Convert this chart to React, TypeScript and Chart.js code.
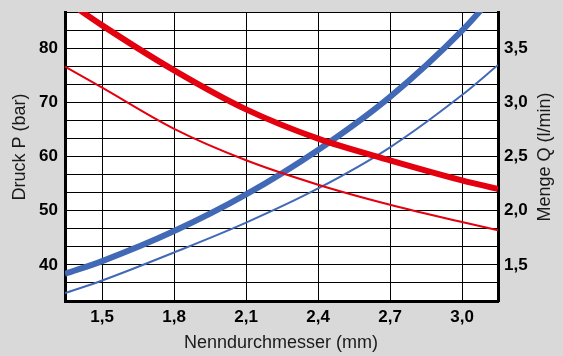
import React, { useEffect, useRef } from "react";
import { Chart, registerables } from "chart.js";

Chart.register(...registerables);

// Nenndurchmesser (mm) sample positions
const diameters = [1.345, 1.5, 1.8, 2.1, 2.4, 2.7, 3.0, 3.15];
// Druck P (bar) – left axis
const pressureHigh = [88.9, 84.2, 75.9, 68.7, 63.3, 59.3, 55.6, 54.0];
const pressureLow = [76.6, 72.7, 65.1, 59.3, 54.8, 51.1, 47.9, 46.4];
// Menge Q (l/min) – right axis
const flowHigh = [1.417, 1.535, 1.812, 2.15, 2.56, 3.05, 3.661, 4.03];
const flowLow = [1.239, 1.356, 1.615, 1.89, 2.205, 2.585, 3.067, 3.344];

const xTicks = [1.5, 1.8, 2.1, 2.4, 2.7, 3.0];
const pressureLabels = [40, 50, 60, 70, 80];
const flowTicks = [1.5, 2.0, 2.5, 3.0, 3.5];
const xRange = [1.345, 3.15];
const pressureRange = [100 / 3, 260 / 3];
const pressureStep = 10 / 3;
const flowRange = [7 / 6, 23 / 6];

const xTitle = "Nenndurchmesser (mm)";
const leftTitle = "Druck P (bar)";
const rightTitle = "Menge Q (l/min)";

const RED = "#e3000f";
const BLUE = "#4169b5";
const FONT = '"Liberation Sans", Arial, Helvetica, sans-serif';

const comma = (v: number) => v.toFixed(1).replace(".", ",");

const pts = (ys: number[]) => diameters.map((x, i) => ({ x, y: ys[i] }));

const decorPlugin = {
  id: "decor",
  beforeDraw(chart: any) {
    const { ctx, chartArea: a, width, height } = chart;
    ctx.save();
    ctx.fillStyle = "#d9d9d9";
    ctx.fillRect(0, 0, width, height);
    ctx.fillStyle = "#ffffff";
    ctx.fillRect(a.left, a.top, a.right - a.left, a.bottom - a.top);
    ctx.restore();
  },
  afterDraw(chart: any) {
    const { ctx } = chart;
    ctx.save();
    ctx.fillStyle = "#1a1a1a";
    ctx.font = `18px ${FONT}`;
    ctx.textAlign = "center";
    ctx.textBaseline = "alphabetic";
    ctx.fillText(xTitle, 281, 348);
    ctx.textBaseline = "middle";
    ctx.save();
    ctx.translate(20, 147);
    ctx.rotate(-Math.PI / 2);
    ctx.fillText(leftTitle, 0, 0);
    ctx.restore();
    ctx.save();
    ctx.translate(545, 157);
    ctx.rotate(-Math.PI / 2);
    ctx.fillText(rightTitle, 0, 0);
    ctx.restore();
    ctx.restore();
  },
};

const line = (label: string, ys: number[], axis: string, color: string, width: number) => ({
  label,
  data: pts(ys),
  yAxisID: axis,
  borderColor: color,
  borderWidth: width,
  pointRadius: 0,
  cubicInterpolationMode: "monotone",
  fill: false,
  clip: 0,
});

export default function App() {
  const ref = useRef<HTMLCanvasElement | null>(null);

  useEffect(() => {
    if (!ref.current) return;
    const tickFont = { family: FONT, size: 17, weight: "bold" as const };
    const chart = new Chart(ref.current, {
      type: "line",
      data: {
        datasets: [
          line("P hoch", pressureHigh, "yP", RED, 6),
          line("P niedrig", pressureLow, "yP", RED, 2),
          line("Q hoch", flowHigh, "yQ", BLUE, 6),
          line("Q niedrig", flowLow, "yQ", BLUE, 2),
        ],
      },
      options: {
        animation: false,
        responsive: false,
        devicePixelRatio: 1,
        events: [],
        layout: { padding: { top: 12, left: 0, right: 0, bottom: 0 } },
        plugins: {
          legend: { display: false },
          tooltip: { enabled: false },
          title: { display: false },
        },
        scales: {
          x: {
            type: "linear",
            min: xRange[0],
            max: xRange[1],
            afterBuildTicks: (s: any) => {
              s.ticks = xTicks.map((v) => ({ value: v }));
            },
            afterFit: (s: any) => {
              s.height = 55;
              s.paddingLeft = 0;
              s.paddingRight = 0;
            },
            grid: { color: "#000", lineWidth: 1, drawTicks: false },
            border: { display: true, color: "#000", width: 3 },
            ticks: {
              autoSkip: false,
              maxRotation: 0,
              padding: 6,
              color: "#000",
              font: tickFont,
              callback: (v: any) => comma(Number(v)),
            },
          },
          yP: {
            type: "linear",
            position: "left",
            min: pressureRange[0],
            max: pressureRange[1],
            afterBuildTicks: (s: any) => {
              const t = [];
              for (let k = 0; k <= 16; k++) t.push({ value: pressureRange[0] + k * pressureStep });
              s.ticks = t;
            },
            afterFit: (s: any) => {
              s.width = 65;
              s.paddingTop = 0;
              s.paddingBottom = 0;
            },
            grid: { color: "#000", lineWidth: 1, drawTicks: false },
            border: { display: true, color: "#000", width: 3 },
            ticks: {
              autoSkip: false,
              padding: 7,
              color: "#000",
              font: tickFont,
              callback: (v: any) => {
                const n = Number(v);
                const hit = pressureLabels.find((p) => Math.abs(p - n) < 0.01);
                return hit !== undefined ? String(hit) : "";
              },
            },
          },
          yQ: {
            type: "linear",
            position: "right",
            min: flowRange[0],
            max: flowRange[1],
            afterBuildTicks: (s: any) => {
              s.ticks = flowTicks.map((v) => ({ value: v }));
            },
            afterFit: (s: any) => {
              s.width = 65;
              s.paddingTop = 0;
              s.paddingBottom = 0;
            },
            grid: { drawOnChartArea: false, drawTicks: false },
            border: { display: true, color: "#000", width: 3 },
            ticks: {
              autoSkip: false,
              padding: 6,
              color: "#000",
              font: tickFont,
              callback: (v: any) => comma(Number(v)),
            },
          },
        },
      } as any,
      plugins: [decorPlugin],
    });
    return () => chart.destroy();
  }, []);

  return (
    <div
      style={{
        position: "fixed",
        left: 0,
        top: 0,
        width: 563,
        height: 356,
        background: "#d9d9d9",
      }}
    >
      <canvas ref={ref} width={563} height={356} style={{ display: "block" }} />
    </div>
  );
}
